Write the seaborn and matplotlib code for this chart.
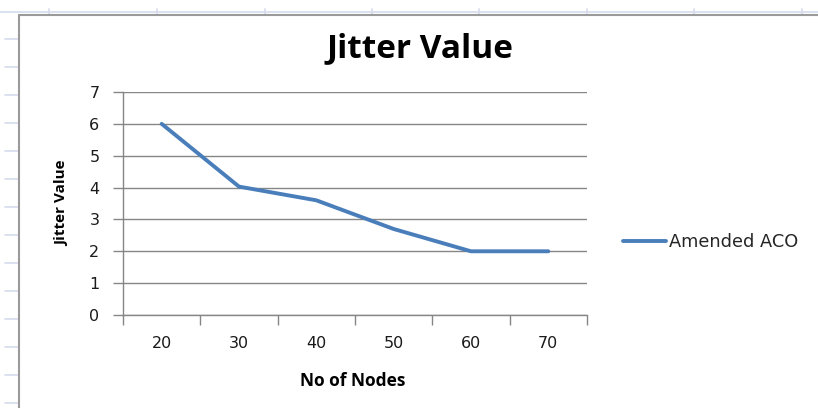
import matplotlib
matplotlib.use("Agg")
import matplotlib.pyplot as plt
from matplotlib.lines import Line2D
import seaborn as sns
import pandas as pd

# Data
nodes = ["20", "30", "40", "50", "60", "70"]
jitter = [6.0, 4.03, 3.6, 2.7, 2.0, 2.0]
series_name = "Amended ACO"
y_ticks = [0, 1, 2, 3, 4, 5, 6, 7]

df = pd.DataFrame({"Nodes": nodes, "Jitter": jitter, "Series": series_name})

sns.set_theme(style="white")
plt.rcParams["font.family"] = ["DejaVu Sans"]

W, H = 818, 408
fig = plt.figure(figsize=(W / 100, H / 100), dpi=100)
fig.patch.set_facecolor("white")

# Worksheet frame around the embedded chart
sheet_blue = "#d5dcec"
frame_grey = "#9a9a9a"
fig.add_artist(Line2D([0, 1], [1 - 11.5 / H] * 2, color=sheet_blue, lw=1.2))
for x in [49, 157, 265, 372, 479, 587, 694, 802]:
    fig.add_artist(Line2D([x / W] * 2, [1 - 9 / H, 1 - 14 / H], color=sheet_blue, lw=1.2))
for y in range(39, H, 28):
    fig.add_artist(Line2D([5 / W, 18 / W], [1 - y / H] * 2, color=sheet_blue, lw=1.2))
fig.add_artist(Line2D([19 / W, 1], [1 - 14.5 / H] * 2, color=frame_grey, lw=1.5))
fig.add_artist(Line2D([19 / W] * 2, [0, 1 - 14.5 / H], color=frame_grey, lw=1.5))

# Plot area
left, right, top, bottom = 123, 587, 92, 315
ax = fig.add_axes([left / W, 1 - bottom / H, (right - left) / W, (bottom - top) / H])

line_color = "#4a7ebb"
sns.lineplot(data=df, x="Nodes", y="Jitter", hue="Series", palette=[line_color],
             linewidth=2.8, ax=ax, legend=False, sort=False)

ax.set_xlim(-0.5, len(nodes) - 0.5)
ax.set_ylim(0, 7)
ax.set_yticks(y_ticks)
ax.set_yticklabels([str(v) for v in y_ticks])
ax.set_xticks(range(len(nodes)))
ax.set_xticklabels(nodes)
ax.set_xticks([i - 0.5 for i in range(len(nodes) + 1)], minor=True)

grid_grey = "#868686"
ax.yaxis.grid(True, color=grid_grey, lw=1.0)
ax.xaxis.grid(False)
ax.set_axisbelow(True)
for side in ["top", "right"]:
    ax.spines[side].set_visible(False)
for side in ["left", "bottom"]:
    ax.spines[side].set_color(grid_grey)
    ax.spines[side].set_linewidth(1.0)

ax.tick_params(axis="y", which="major", direction="out", length=7, width=1.0,
               color=grid_grey, labelsize=11.5, pad=10, left=True)
ax.tick_params(axis="x", which="major", length=0, labelsize=11.5, pad=15)
ax.tick_params(axis="x", which="minor", direction="out", length=7, width=1.0,
               color=grid_grey, bottom=True)
for lab in ax.get_xticklabels() + ax.get_yticklabels():
    lab.set_color("#1a1a1a")

ax.set_xlabel("")
ax.set_ylabel("")
label_font = ["Open Sans", "DejaVu Sans"]
fig.text(353 / W, 1 - 381 / H, "No of Nodes", ha="center", va="center",
         fontsize=12.5, fontweight="bold", family=label_font, color="black")
fig.text(62 / W, 1 - 203 / H, "Jitter Value", ha="center", va="center", rotation=90,
         fontsize=11, fontweight="bold", family=label_font, color="black")
fig.text(420 / W, 1 - 49 / H, "Jitter Value", ha="center", va="center",
         fontsize=24, fontweight="bold", family=label_font, color="black")

# Legend
handle = Line2D([], [], color=line_color, lw=2.8)
fig.legend([handle], [series_name], loc="center left",
           bbox_to_anchor=(607 / W, 1 - 242 / H), frameon=False,
           fontsize=12.8, handlelength=2.4, handletextpad=0.2)

fig.savefig("out.png", dpi=100, facecolor="white")
